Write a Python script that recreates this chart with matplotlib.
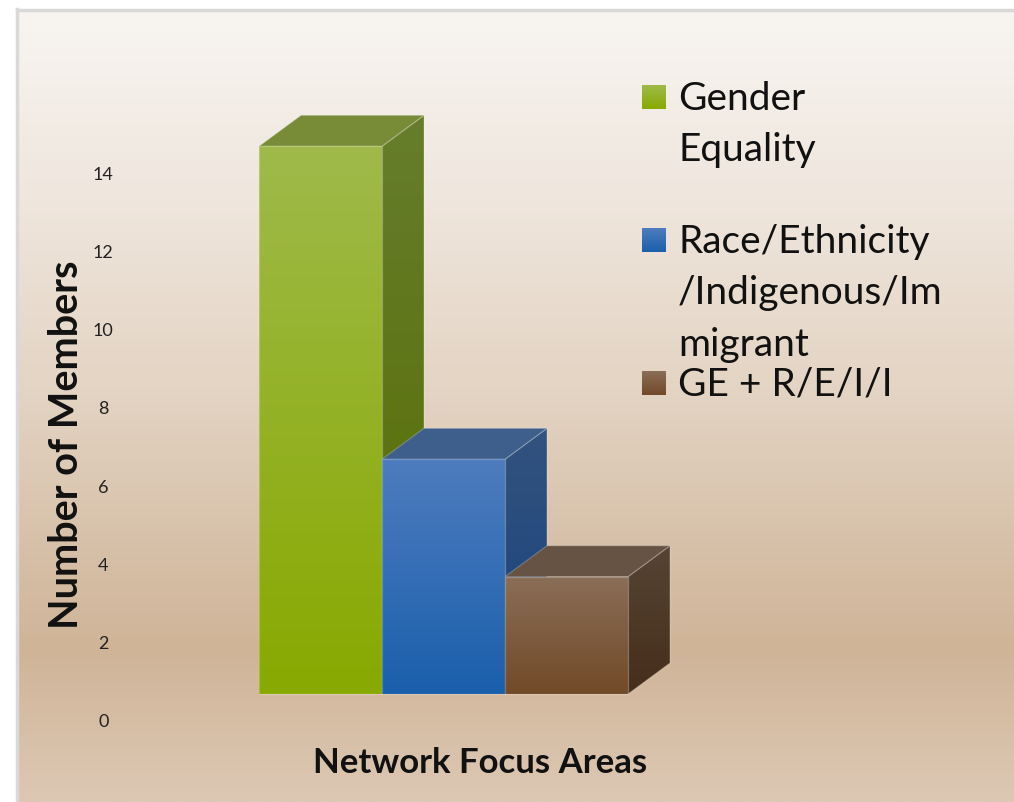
import numpy as np
import matplotlib.pyplot as plt
from matplotlib.patches import Polygon
from matplotlib.colors import LinearSegmentedColormap

# --- data ---
categories = ["Gender Equality", "Race/Ethnicity/Indigenous/Immigrant", "GE + R/E/I/I"]
legend_lines = [["Gender", "Equality"], ["Race/Ethnicity", "/Indigenous/Im", "migrant"], ["GE + R/E/I/I"]]
members = [14, 6, 3]
y_ticks = [0, 2, 4, 6, 8, 10, 12, 14]

# face colours per bar: front (top, bottom), side (top, bottom), top face
front_cols = [("#9fba4a", "#88a900"), ("#4e7cbe", "#1a5fac"), ("#8a6e57", "#724a28")]
side_cols = [("#667d2c", "#576d00"), ("#33537f", "#17427a"), ("#574434", "#452e1a")]
top_cols = ["#788c38", "#3e5f8c", "#675344"]

W, H = 1014, 803
fig = plt.figure(figsize=(W / 100, H / 100), dpi=100)

# background panel with vertical gradient
bg = fig.add_axes([0, 0, 1, 1])
bg.set_xlim(0, W)
bg.set_ylim(H, 0)
bg.axis("off")
bg_stops = ["#f8f5f1", "#efe6dd", "#e3d3c2", "#d6bfa7", "#cfb497", "#ddc8b4"]
bg_cmap = LinearSegmentedColormap.from_list("bg", list(zip([0, 0.24, 0.49, 0.69, 0.81, 1.0], bg_stops)))
grad = np.linspace(0, 1, 512).reshape(-1, 1)
bg.imshow(grad, cmap=bg_cmap, origin="upper", extent=(17, W, H, 10), aspect="auto", zorder=0)
bg.plot([17, W], [10.5, 10.5], color="#d9d9d9", lw=2.5, zorder=1)
bg.plot([17, 17], [10, H], color="#d9d9d9", lw=2.5, zorder=1)
bg.set_xlim(0, W)
bg.set_ylim(H, 0)

# main plot area: 0 at pixel 721, 14 at pixel 173
ax = fig.add_axes([120 / W, (H - 721) / H, 880 / W, (721 - 95) / H])
ax.patch.set_alpha(0)
for s in ax.spines.values():
    s.set_visible(False)

DX, DY = 42 / 123, 31 / 39.14   # depth of the 3D boxes in data units
LIFT = 26 / 39.14               # front face sits above the tick baseline
edge = (1, 1, 1, 0.22)


def shaded(verts, c_top, c_bot, z):
    poly = Polygon(verts, closed=True, facecolor="none", edgecolor=edge, lw=0.9, zorder=z + 0.1)
    ax.add_patch(poly)
    xs, ys = zip(*verts)
    cmap = LinearSegmentedColormap.from_list("f", [c_bot, c_top])
    im = ax.imshow(np.linspace(0, 1, 256).reshape(-1, 1), cmap=cmap, origin="lower",
                   extent=(min(xs), max(xs), min(ys), max(ys)), aspect="auto",
                   interpolation="bilinear", zorder=z)
    im.set_clip_path(poly)


for i, v in enumerate(members):
    x0, x1 = i, i + 1
    y0, y1 = LIFT, LIFT + v
    z = 2 + i
    shaded([(x1, y0), (x1 + DX, y0 + DY), (x1 + DX, y1 + DY), (x1, y1)], *side_cols[i], z)
    ax.add_patch(Polygon([(x0, y1), (x0 + DX, y1 + DY), (x1 + DX, y1 + DY), (x1, y1)],
                         closed=True, facecolor=top_cols[i], edgecolor=edge, lw=0.9, zorder=z + 0.2))
    shaded([(x0, y0), (x1, y0), (x1, y1), (x0, y1)], *front_cols[i], z + 0.3)

ax.set_xlim((120 - 259) / 123, (1000 - 259) / 123)
ax.set_ylim(0, 16)
ax.set_xticks([])
ax.set_yticks(y_ticks)
ax.tick_params(axis="y", length=0, pad=12, labelsize=13, labelcolor="#222222")
for lbl in ax.get_yticklabels():
    lbl.set_ha("center")
    lbl.set_family("Lato")

# legend drawn by hand (wrapped labels)
entry_baselines = [110, 253, 396]
line_step = 51.5
for i, lines in enumerate(legend_lines):
    b = entry_baselines[i]
    cmap = LinearSegmentedColormap.from_list("m", [front_cols[i][1], front_cols[i][0]])
    bg.imshow(np.linspace(0, 1, 64).reshape(-1, 1), cmap=cmap, origin="lower",
              extent=(642, 666, b, b - 24), aspect="auto", zorder=3)
    for k, line in enumerate(lines):
        bg.text(678, b + k * line_step, line, va="baseline", ha="left", fontsize=28,
                family="Lato", color="#111111", zorder=4)
bg.set_xlim(0, W)
bg.set_ylim(H, 0)

bg.text(67, 445, "Number of Members", rotation=90, ha="center", va="center",
        fontsize=28.5, weight="bold", family="Lato", color="#111111")
bg.text(480, 773, "Network Focus Areas", ha="center", va="baseline",
        fontsize=25, weight="bold", family="Lato", color="#111111")

fig.savefig("out.png", dpi=100)
